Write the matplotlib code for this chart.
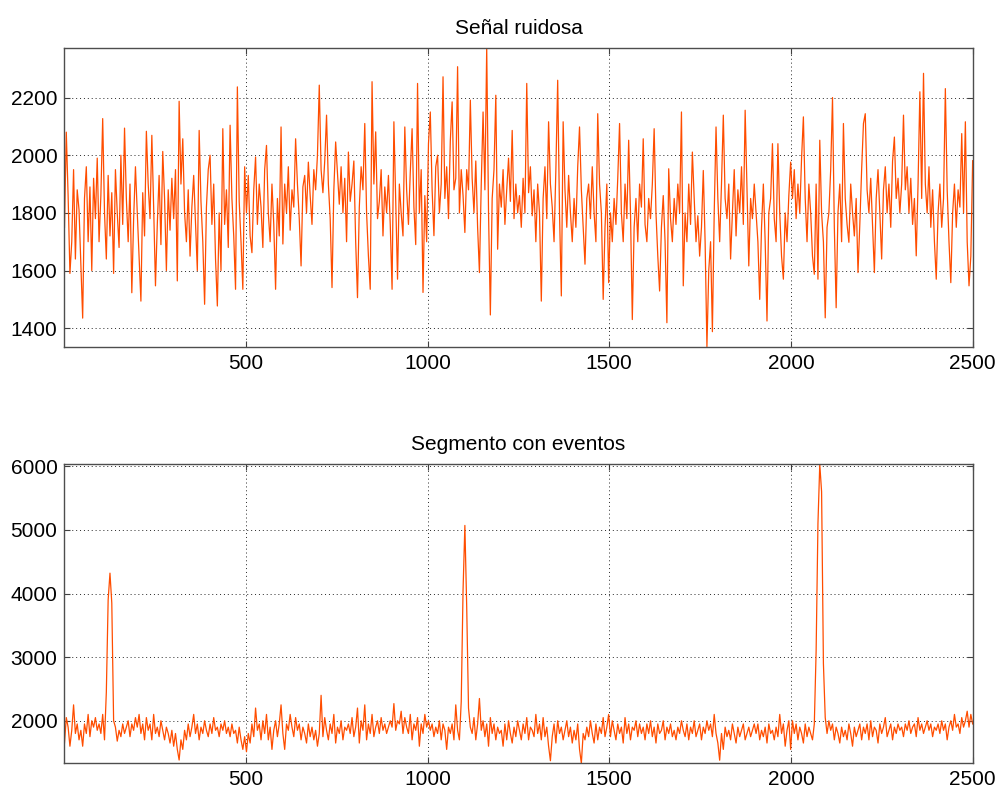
import numpy as np
import matplotlib
matplotlib.use("Agg")
import matplotlib.pyplot as plt

# señal ruidosa, leida cada 5 muestras (cada fila = 100 muestras)
senal = [
    1750, 2080, 1860, 1590, 1700, 1950, 1640, 1880, 1810, 1620, 1435, 1850, 1960, 1700, 1890, 1600, 1920, 1780, 1990, 1700,
    1860, 2127, 1800, 1640, 1930, 1720, 1870, 1590, 1950, 1800, 1680, 2000, 1760, 2094, 1850, 1700, 1900, 1523, 1780, 1960,
    1800, 1650, 1494, 1870, 1720, 2083, 1900, 1780, 2069, 1820, 1547, 1760, 1930, 1690, 2013, 1850, 1600, 1880, 1740, 1920,
    1780, 1950, 1564, 2187, 1900, 2057, 1800, 1700, 1880, 1650, 1820, 1930, 1760, 1600, 2086, 1840, 1700, 1483, 1820, 1950,
    2000, 1760, 1900, 1640, 1477, 1800, 1600, 2092, 1760, 1880, 1680, 2104, 1850, 1720, 1535, 2237, 1840, 1700, 1535, 1960,
    1800, 1930, 1720, 1662, 1880, 1994, 1760, 1900, 1820, 1680, 1950, 2034, 1800, 1700, 1900, 1760, 1535, 1850, 1720, 2098,
    1692, 1900, 1800, 1960, 1740, 1880, 1820, 2057, 1900, 1780, 1616, 1890, 1930, 1800, 1976, 1860, 1760, 1950, 1880, 2000,
    2243, 1950, 1870, 1980, 2139, 1900, 1780, 1541, 1880, 2046, 1940, 1830, 1960, 1800, 1920, 1700, 2011, 1840, 1900, 1980,
    1700, 1506, 1820, 1960, 1880, 2110, 1800, 1650, 1535, 2255, 1900, 2081, 1780, 1840, 1950, 1720, 1890, 1800, 1930, 1760,
    1535, 2116, 1850, 1570, 1900, 1800, 1720, 2098, 1880, 1760, 1940, 2092, 1820, 1690, 2249, 1800, 1950, 1524, 1860, 1700,
    2040, 2150, 1880, 1721, 1960, 2000, 1800, 1900, 2272, 1850, 1960, 1780, 2050, 2185, 1880, 1920, 2307, 1800, 1950, 1860,
    1732, 1950, 1880, 2191, 1920, 1800, 1980, 1750, 1593, 1900, 2150, 1880, 2373, 1800, 1446, 1850, 1950, 2208, 1674, 1900,
    1820, 1950, 1760, 1880, 1990, 1840, 2086, 1780, 1900, 1800, 1860, 1750, 1920, 1800, 2249, 1870, 1960, 1790, 1880, 1700,
    1900, 1800, 1494, 1850, 1960, 1780, 2116, 1900, 1820, 1700, 1950, 2260, 1800, 1512, 2116, 1880, 1750, 1930, 1800, 1700,
    1850, 1750, 1960, 2098, 1880, 1750, 1622, 1850, 1900, 1780, 1960, 1800, 1700, 2144, 1900, 1800, 1500, 1750, 1900, 1558,
    1800, 1700, 1850, 1760, 1920, 2110, 1800, 1700, 1900, 1780, 2052, 1800, 1430, 1750, 1850, 1700, 1900, 1820, 2057, 1760,
    1700, 1850, 1780, 1900, 2092, 1800, 1650, 1529, 1750, 1860, 1700, 1419, 1953, 1780, 1700, 1850, 1760, 1900, 1800, 2150,
    1547, 1800, 1700, 1900, 1760, 2011, 1850, 1700, 1790, 1650, 1750, 1947, 1700, 1336, 1600, 1700, 1388, 1800, 2098, 1850,
    1700, 1900, 2139, 1850, 1780, 1900, 1640, 1800, 1950, 1720, 1880, 1800, 1960, 1760, 2156, 1880, 1616, 1850, 1780, 1900,
    1800, 1700, 1500, 1750, 1900, 1700, 1425, 1800, 1850, 2040, 1780, 1700, 2040, 1800, 1650, 1570, 1800, 1700, 1860, 1976,
    1850, 1950, 1780, 1900, 1800, 1990, 2133, 1850, 1700, 1900, 1800, 1650, 1587, 1900, 1570, 2052, 1800, 1700, 1436, 1750,
    1800, 1950, 2200, 1750, 1471, 1800, 1900, 1700, 2110, 1850, 1760, 1698, 1900, 1800, 1720, 1850, 1593, 1760, 1950, 2110,
    2144, 1880, 1800, 1920, 1760, 1593, 1850, 1950, 1800, 1640, 1880, 1960, 1800, 1900, 1750, 1980, 2063, 1850, 1920, 1800,
    1900, 2139, 1880, 1960, 1800, 1920, 1760, 1850, 1651, 1900, 2220, 1850, 2284, 1900, 1800, 1960, 1750, 1880, 1700, 1570,
    1800, 1900, 1750, 1850, 2231, 1880, 1700, 1558, 1800, 1900, 1750, 1880, 1820, 2075, 1800, 2116, 1700, 1547, 1650, 1981,
]

# segmento con tres eventos, misma resolucion
segmento = [
    1650, 2050, 1900, 1600, 1850, 2250, 1800, 1950, 1700, 1850, 1600, 1950, 1800, 2100, 1750, 2000, 1900, 2050, 1850, 1950,
    1800, 2100, 1700, 2450, 3900, 4320, 3850, 2000, 1900, 1680, 1850, 1750, 1950, 1800, 1900, 2000, 1750, 1950, 1850, 2050,
    1900, 2100, 1800, 1950, 1700, 2050, 1850, 1950, 1700, 2100, 1800, 1900, 1750, 2000, 1850, 1700, 1900, 1800, 1650, 1850,
    1600, 1800, 1550, 1383, 1700, 1550, 1850, 1700, 1950, 1750, 1900, 2100, 1800, 1950, 1700, 1900, 1800, 2000, 1850, 1750,
    1950, 1800, 2050, 1850, 1900, 1750, 1950, 1850, 2000, 1800, 1900, 1750, 1950, 1800, 1850, 1650, 1900, 1700, 1550, 1750,
    1513, 1800, 1650, 1950, 1750, 2200, 1850, 1950, 1700, 2000, 1800, 2100, 1700, 1900, 1550, 1850, 2000, 1750, 1950, 2250,
    1800, 1550, 1950, 1850, 2100, 1900, 1750, 2050, 1850, 1950, 1700, 1900, 1800, 1650, 1950, 1750, 1900, 1700, 1850, 1600,
    1800, 2400, 1750, 2050, 1850, 1700, 1950, 1800, 2100, 1650, 1900, 1800, 2000, 1700, 1900, 1850, 1950, 1800, 2050, 1750,
    1900, 2200, 1650, 2000, 1850, 2250, 1700, 1950, 1800, 2100, 1750, 1900, 2000, 1800, 2050, 1850, 1950, 1800, 1900, 2000,
    1900, 2270, 1850, 2000, 1950, 2150, 1800, 2050, 1900, 1800, 2100, 1700, 1950, 1850, 2050, 1600, 1950, 1800, 2100, 1900,
    2000, 1850, 1950, 1750, 1900, 1800, 2000, 1700, 1950, 1850, 1550, 1900, 1800, 1950, 1700, 2250, 1850, 1700, 2300, 4050,
    5070, 3800, 2200, 1900, 1800, 2050, 1700, 1950, 2350, 1850, 2000, 1750, 1950, 1600, 2050, 1800, 1950, 1700, 1900, 1800,
    1850, 1600, 1950, 1700, 2000, 1800, 1650, 1900, 1750, 2000, 1850, 1700, 1950, 1800, 2050, 1700, 1900, 1850, 1750, 2100,
    1800, 1950, 1700, 2050, 1750, 1900, 1600, 1372, 1750, 1950, 1650, 2000, 1800, 1900, 1700, 1850, 2000, 1750, 1900, 1650,
    1850, 1700, 1950, 1550, 1331, 1800, 1700, 1900, 1750, 2000, 1800, 1650, 1950, 1700, 1900, 1800, 2050, 1750, 1900, 2100,
    1750, 2000, 1850, 1700, 1950, 1800, 1900, 1650, 2050, 1800, 1950, 1700, 1900, 1850, 2000, 1750, 1950, 1800, 1900, 1700,
    1950, 1800, 2000, 1750, 1900, 1650, 1950, 1800, 1850, 2000, 1700, 1900, 1800, 1950, 1750, 1850, 1700, 1900, 1800, 2000,
    1850, 1750, 1950, 1700, 1900, 1800, 2000, 1750, 1850, 1950, 1700, 1900, 1800, 2000, 1850, 1950, 1750, 2100, 1800, 1650,
    1380, 1800, 1550, 1900, 1750, 1850, 1700, 1950, 1800, 1650, 1900, 1750, 1850, 1950, 1700, 1800, 1900, 1750, 1850, 1950,
    1800, 1950, 1700, 1850, 1750, 1900, 1650, 1950, 1800, 1850, 1700, 1900, 1750, 2100, 1800, 1950, 1600, 1850, 2000, 1550,
    2000, 1800, 1950, 1700, 1900, 1800, 1650, 1950, 1750, 1900, 1800, 1700, 1950, 3100, 5100, 6030, 5600, 2900, 2050, 1800,
    2000, 1850, 1950, 1700, 1900, 1800, 1650, 1900, 1750, 1850, 1700, 1950, 1800, 1600, 1900, 1750, 1850, 1950, 1700, 1900,
    1800, 1950, 1700, 2000, 1750, 1900, 1850, 1650, 1950, 1800, 1900, 2050, 1750, 1850, 1950, 1700, 1900, 1800, 1950, 1850,
    1900, 1750, 1950, 1850, 2000, 1800, 1900, 1950, 1750, 2050, 1850, 1950, 1800, 1900, 2000, 1850, 1950, 1750, 1900, 1850,
    1950, 1800, 2000, 1850, 1950, 1700, 1900, 2000, 1850, 2100, 1900, 1950, 1800, 2050, 1900, 2000, 2150, 1900, 2100, 1950,
]

titulos = ["Señal ruidosa", "Segmento con eventos"]
xticks = [500, 1000, 1500, 2000, 2500]
yticks_sup = [1400, 1600, 1800, 2000, 2200]
yticks_inf = [2000, 3000, 4000, 5000, 6000]

plt.rcParams["font.family"] = ["Liberation Sans", "DejaVu Sans"]
plt.rcParams["font.size"] = 15

color = "#ff4d00"

fig = plt.figure(figsize=(9.98, 7.92), dpi=100)
ax1 = fig.add_axes([0.0646, 0.5623, 0.910, 0.3775])
ax2 = fig.add_axes([0.0646, 0.0362, 0.910, 0.3775])

for ax, datos, titulo, yt in zip([ax1, ax2], [senal, segmento], titulos, [yticks_sup, yticks_inf]):
    x = np.linspace(1, 2500, len(datos))
    ax.plot(x, datos, color=color, linewidth=0.9)
    ax.set_xlim(1, 2500)
    ax.set_ylim(min(datos), max(datos))
    ax.set_xticks(xticks)
    ax.set_yticks(yt)
    ax.set_title(titulo, fontsize=15, pad=10)
    ax.grid(True, color="0.15", linestyle=(0, (1, 3)), linewidth=0.7)
    ax.tick_params(direction="in", length=4, top=True, right=True, labelsize=15, pad=5, color="0.25")
    for s in ax.spines.values():
        s.set_color("0.3")
        s.set_linewidth(1.0)

fig.savefig("out.png", dpi=100)
